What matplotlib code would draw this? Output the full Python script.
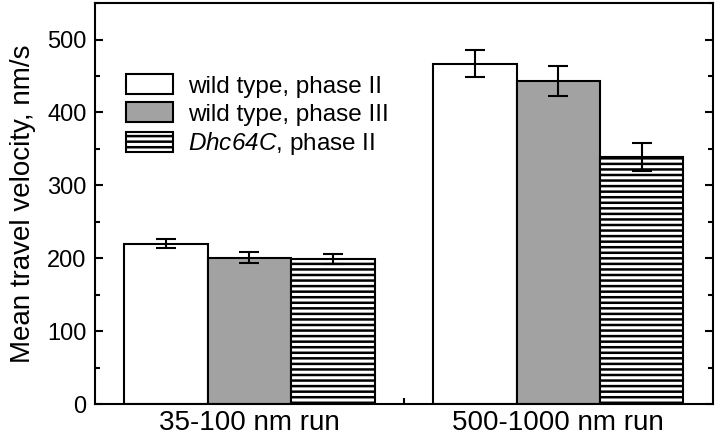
import numpy as np
import matplotlib
matplotlib.use("Agg")
import matplotlib.pyplot as plt
from matplotlib.ticker import MultipleLocator

plt.rcParams['font.family'] = ['Liberation Sans', 'DejaVu Sans']
# only the gene name in the legend uses mathtext, so make it all italic
plt.rcParams['mathtext.fontset'] = 'custom'
plt.rcParams['mathtext.rm'] = 'Liberation Sans:italic'
plt.rcParams['mathtext.it'] = 'Liberation Sans:italic'
plt.rcParams['hatch.linewidth'] = 1.8

categories = ['35-100 nm run', '500-1000 nm run']
series_labels = ['wild type, phase II', 'wild type, phase III', r'$\mathit{Dhc64C}$, phase II']
wt_phase2 = [220, 467]
wt_phase2_err = [6, 18]
wt_phase3 = [201, 443]
wt_phase3_err = [7, 21]
dhc_phase2 = [199, 339]
dhc_phase2_err = [7, 19]

fig = plt.figure(figsize=(7.2, 4.44), dpi=100)
ax = fig.add_axes([0.132, 0.090, 0.858, 0.903])

x = np.arange(1, len(categories) + 1)
w = 0.27
styles = [dict(color='white', hatch=None),
          dict(color='#a2a2a2', hatch=None),
          dict(color='white', hatch='---')]
vals = [wt_phase2, wt_phase3, dhc_phase2]
errs = [wt_phase2_err, wt_phase3_err, dhc_phase2_err]

for i, (v, e, st, lab) in enumerate(zip(vals, errs, styles, series_labels)):
    pos = x + (i - 1) * w
    ax.bar(pos, v, width=w, color=st['color'], hatch=st['hatch'],
           edgecolor='black', linewidth=1.5, label=lab, zorder=2)
    ax.errorbar(pos, v, yerr=e, fmt='none', ecolor='black',
                elinewidth=1.5, capsize=7, capthick=1.5, zorder=3)

ax.set_xlim(0.5, 2.5)
ax.set_ylim(0, 550)
ax.set_xticks([1, 1.5, 2])
ax.set_xticklabels([categories[0], '', categories[1]], fontsize=20)
ax.tick_params(axis='x', direction='in', length=4, width=1.5, pad=4)
ax.yaxis.set_major_locator(MultipleLocator(100))
ax.yaxis.set_minor_locator(MultipleLocator(50))
ax.tick_params(axis='y', which='major', direction='in', length=6, width=1.5,
               right=True, labelsize=17, pad=6)
ax.tick_params(axis='y', which='minor', direction='in', length=3.5, width=1.5,
               right=True)
ax.set_ylabel('Mean travel velocity, nm/s', fontsize=20, labelpad=8)
for s in ax.spines.values():
    s.set_linewidth(1.5)

ax.legend(loc='upper left', bbox_to_anchor=(0.05, 0.822), frameon=False,
          fontsize=17.5, handlelength=1.95, handleheight=0.85, handletextpad=0.6,
          labelspacing=0.2, borderpad=0, borderaxespad=0)

fig.savefig('out.png', dpi=100)
